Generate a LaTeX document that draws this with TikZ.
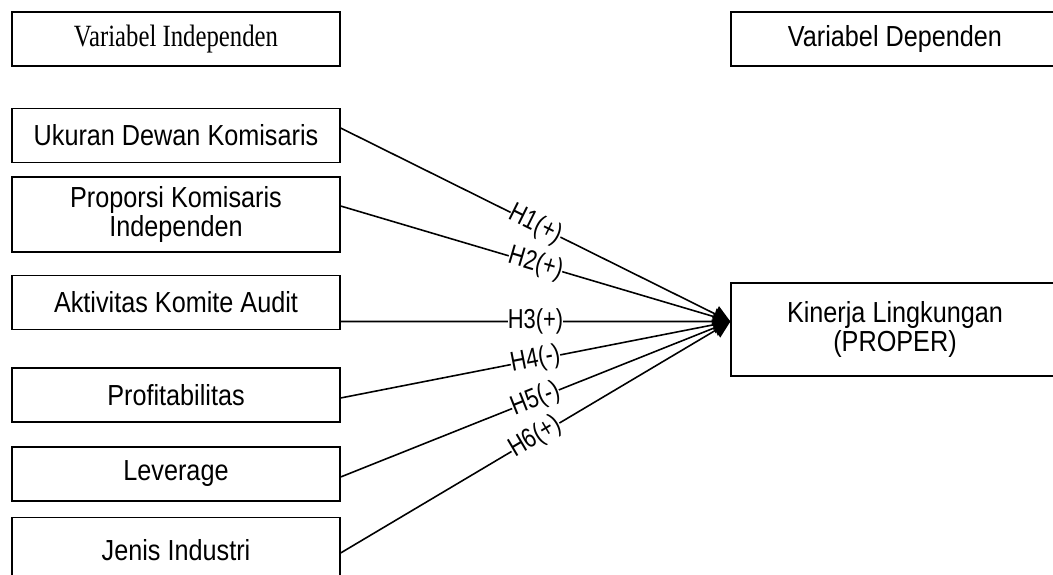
\documentclass[tikz,border=0pt]{standalone}
\usepackage{fontspec}
\setmainfont{Liberation Sans}[FakeStretch=0.87]
\newfontfamily\timesfont{Liberation Serif}[FakeStretch=0.8]
\newfontfamily\hypfont{Liberation Sans}[FakeStretch=0.8]
\usetikzlibrary{arrows.meta}

\begin{document}
\begin{tikzpicture}[
  varbox/.style={draw, line width=0.7pt, minimum width=6.56cm, minimum height=1.08cm,
    inner sep=2pt, align=center, font=\fontsize{16.5}{16.5}\selectfont},
  hyp/.style={fill=white, inner sep=0pt, sloped, font=\hypfont\fontsize{15.6}{16}\selectfont},
  link/.style={line width=0.9pt, -{Triangle[length=0.34cm,width=0.34cm]}}
]

\useasboundingbox (0,0) rectangle (21.06,11.48);

% Independent variables
\node[varbox, font={\timesfont\fontsize{17.6}{17.6}\selectfont}] (indep) at (3.52,10.7) {Variabel Independen};
\node[varbox] (ukuran) at (3.52,8.77) {Ukuran Dewan Komisaris};
\node[varbox, minimum height=1.5cm] (proporsi) at (3.52,7.19) {Proporsi Komisaris\\Independen};
\node[varbox] (audit) at (3.52,5.43) {Aktivitas Komite Audit};
\node[varbox] (profit) at (3.52,3.58) {Profitabilitas};
\node[varbox] (leverage) at (3.52,2.0) {Leverage};
\node[varbox, minimum height=1.3cm] (industri) at (3.52,0.48) {Jenis Industri};

% Dependent variable
\node[varbox] (dep) at (17.9,10.7) {Variabel Dependen};
\node[varbox, minimum height=1.86cm] (kinerja) at (17.9,4.89) {Kinerja Lingkungan\\(PROPER)};

\coordinate (tip) at ([yshift=0.16cm]kinerja.west);

% Hypotheses
\draw[link] ([yshift=0.15cm]ukuran.east) -- node[hyp] {H1(+)} (tip);
\draw[link] ([yshift=0.17cm]proporsi.east) -- node[hyp] {H2(+)} (tip);
\draw[link] ([yshift=-0.38cm]audit.east) -- node[hyp] {H3(+)} (tip);
\draw[link] ([yshift=-0.06cm]profit.east) -- node[hyp] {H4(-)} (tip);
\draw[link] ([yshift=-0.06cm]leverage.east) -- node[hyp] {H5(-)} (tip);
\draw[link] ([yshift=-0.06cm]industri.east) -- node[hyp] {H6(+)} (tip);

\end{tikzpicture}
\end{document}
